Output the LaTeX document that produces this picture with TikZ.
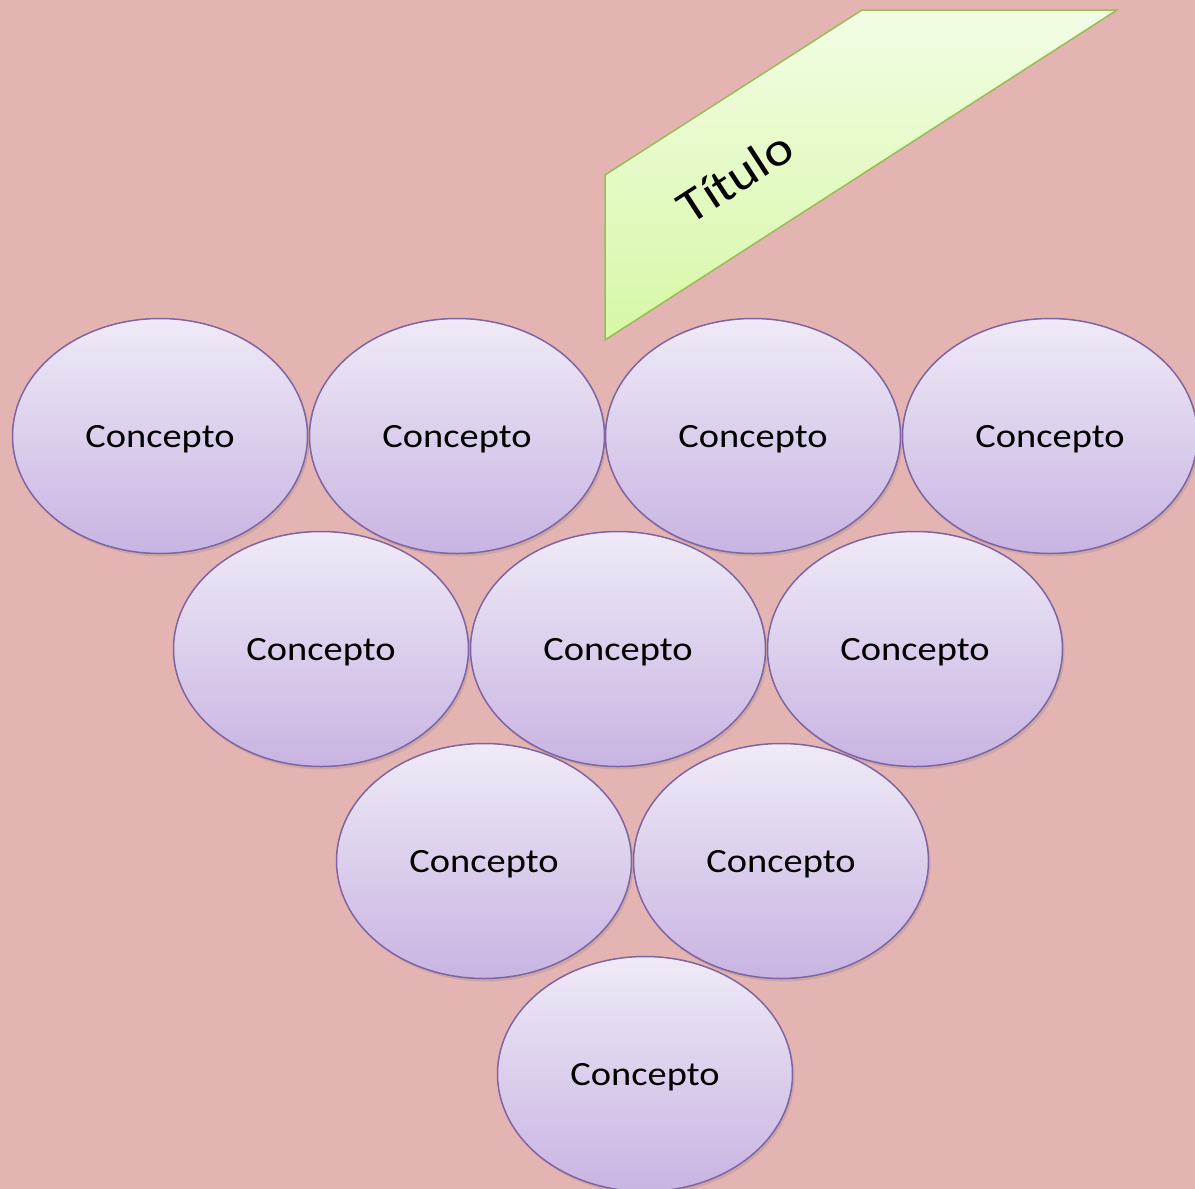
\documentclass[tikz,border=0pt]{standalone}
\usepackage{fontspec}
\setmainfont{Carlito}
\newfontfamily\stretchfont[FakeStretch=1.13]{Carlito}
\usetikzlibrary{shapes.geometric,shadows}
\definecolor{bgpink}{HTML}{E4B4B3}
\definecolor{ctop}{HTML}{EFEAF7}
\definecolor{cbot}{HTML}{C8B4E2}
\definecolor{cline}{HTML}{8064A2}
\definecolor{gtop}{HTML}{F2FDE4}
\definecolor{gbot}{HTML}{D7F7A6}
\definecolor{gline}{HTML}{9BBB59}
\tikzset{
  concept/.style={ellipse, draw=cline, line width=1.5pt, top color=ctop, bottom color=cbot,
    minimum width=295pt, minimum height=235pt, inner sep=0pt, text depth=0pt,
    drop shadow={opacity=0.25, shadow xshift=2pt, shadow yshift=-3pt},
    font=\stretchfont\fontsize{34}{36}\selectfont},
  banner/.style={draw=gline, line width=1.5pt, top color=gtop, bottom color=gbot},
}
\begin{document}
\begin{tikzpicture}[x=1pt,y=-1pt]
\useasboundingbox (0,0) rectangle (1195,1189);
\fill[bgpink] (0,0) rectangle (1195,1189);
% banner
\draw[banner] (862,10) coordinate (b1) -- (1117,10) coordinate (b2) -- (605,340) coordinate (b3) -- (605,175) coordinate (b4) -- cycle;
\node[rotate=33, font=\stretchfont\fontsize{48}{52}\selectfont, inner sep=0pt] (title) at (735,177) {Título};
% row 1
\node[concept] (c11) at (160,436) {Concepto};
\node[concept] (c12) at (457,436) {Concepto};
\node[concept] (c13) at (753,436) {Concepto};
\node[concept] (c14) at (1050,436) {Concepto};
% row 2
\node[concept] (c21) at (321,649) {Concepto};
\node[concept] (c22) at (618,649) {Concepto};
\node[concept] (c23) at (915,649) {Concepto};
% row 3
\node[concept] (c31) at (484,861) {Concepto};
\node[concept] (c32) at (781,861) {Concepto};
% row 4
\node[concept] (c41) at (645,1074) {Concepto};
\end{tikzpicture}
\end{document}
